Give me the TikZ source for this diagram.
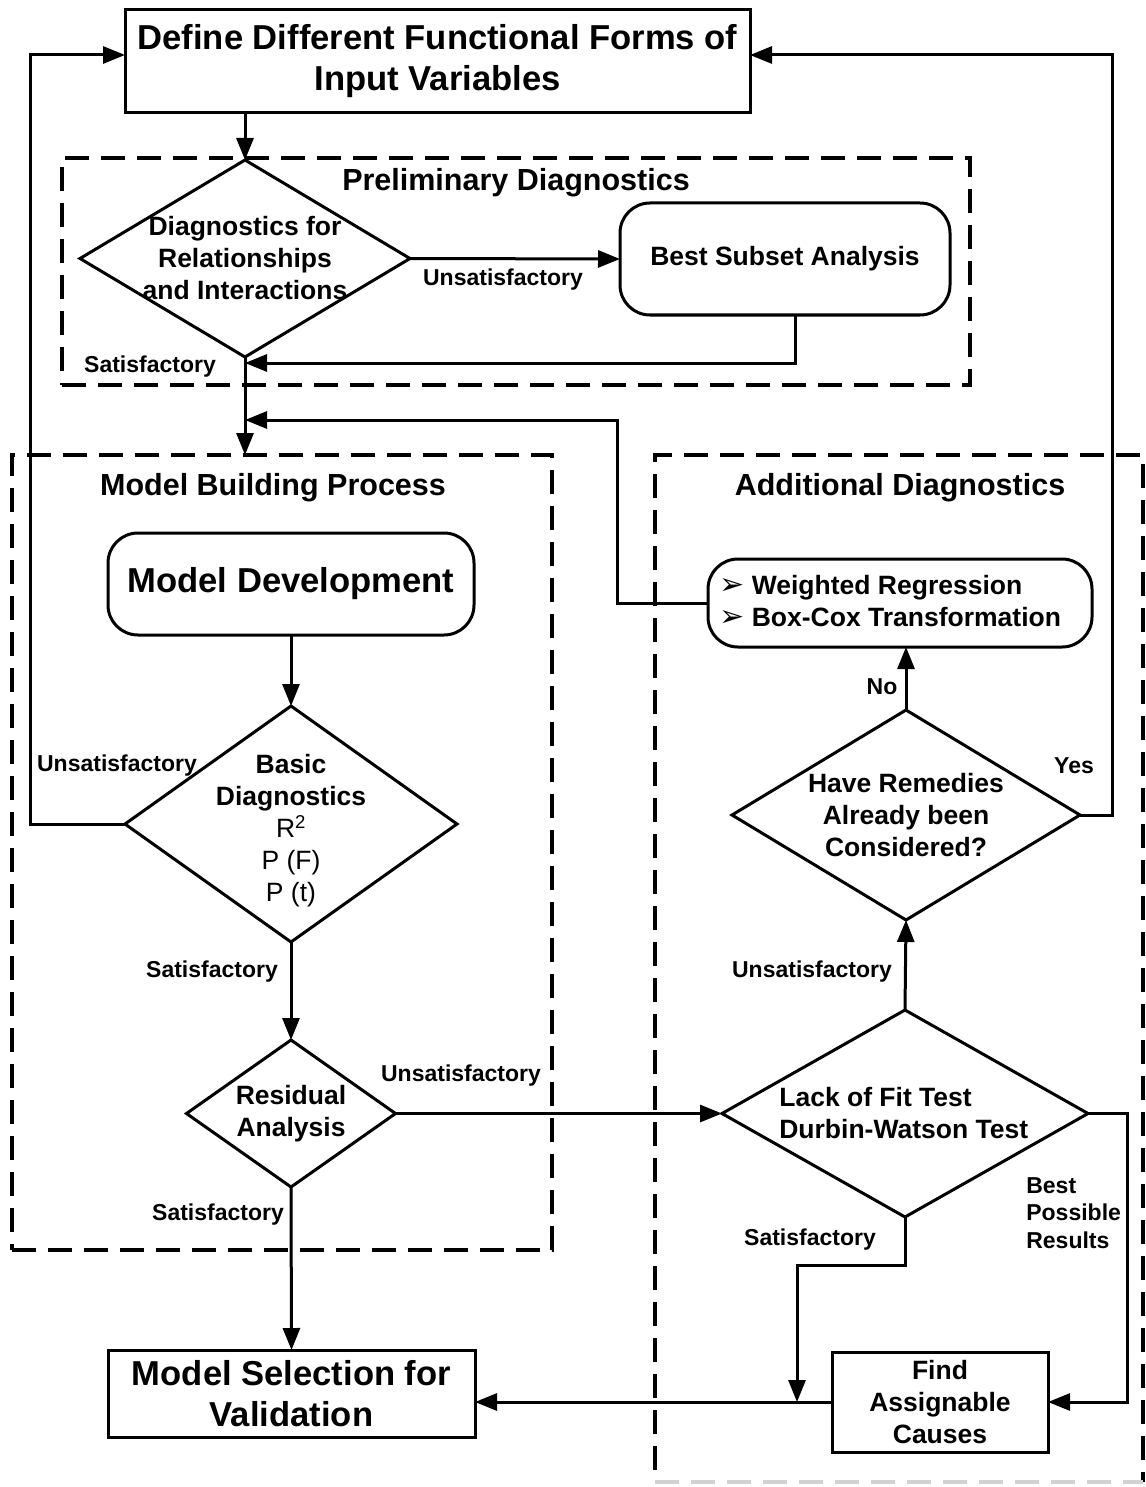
\documentclass[tikz,border=0pt]{standalone}
\usepackage{fontspec}
\setmainfont{Liberation Sans}
\newfontfamily\symfont{DejaVu Sans}
\usetikzlibrary{shapes.geometric,arrows.meta}

\begin{document}
\begin{tikzpicture}[x=1pt,y=-1pt,
  every node/.style={outer sep=0pt},
  box/.style={draw,line width=3pt,inner sep=0pt},
  rbox/.style={box,rounded corners=30pt},
  dia/.style={draw,diamond,line width=3pt,inner sep=0pt},
  grpline/.style={line width=3.5pt,dash pattern=on 24pt off 12pt},
  grp/.style={draw,grpline,inner sep=0pt},
  txt/.style={align=center,font=\fontsize{26.5}{32}\selectfont\bfseries},
  big/.style={align=center,font=\fontsize{34.6}{41}\selectfont\bfseries},
  ttl/.style={font=\fontsize{30.5}{35}\selectfont\bfseries},
  lbl/.style={align=left,font=\fontsize{23}{27.5}\selectfont\bfseries},
  con/.style={line width=3pt},
  arr/.style={con,-{Triangle[length=22pt,width=17pt]}},
]
\path[use as bounding box] (0,0) rectangle (1145,1487);

% dashed group frames
\node[grp,minimum width=908pt,minimum height=227pt] (prelim) at (516,271.5) {};
\node[grp,minimum width=540pt,minimum height=795pt] (mbp) at (282,852.5) {};
\draw[grpline] (655,1470) -- (655,455) -- (1143,455) -- (1143,1482);
\draw[grpline,gray!35] (655,1482) -- (1143,1482);

\node[ttl] (prelimT) at (516,183) {Preliminary Diagnostics};
\node[ttl] (mbpT) at (273,488) {Model Building Process};
\node[ttl] (addT) at (900,488) {Additional Diagnostics};

% top box
\node[box,big,minimum width=625pt,minimum height=103pt] (top) at (437.5,61.5)
  {Define Different Functional Forms of\\Input Variables};

% preliminary diagnostics
\node[dia,minimum width=330pt,minimum height=197pt] (d1) at (245,258.5) {};
\node[txt] (d1t) at (d1) {Diagnostics for\\Relationships\\and Interactions};
\node[rbox,txt,minimum width=330pt,minimum height=112pt] (bsa) at (785,259) {Best Subset Analysis};

% model building
\node[rbox,big,minimum width=366pt,minimum height=102pt] (md) at (291,584) {Model Development};
\node[dia,minimum width=332pt,minimum height=236pt] (d2) at (291,824) {};
\node[txt] (d2t) at (291,831)
  {Basic\\Diagnostics\\\mdseries R\textsuperscript{2}\\\mdseries P (F)\\\mdseries P (t)};
\node[dia,minimum width=209pt,minimum height=147pt] (d3) at (291,1113.5) {};
\node[txt] (d3t) at (d3) {Residual\\Analysis};
\node[box,big,minimum width=367pt,minimum height=87pt] (ms) at (291.5,1393.5)
  {Model Selection for\\Validation};

% additional diagnostics
\node[rbox,minimum width=384pt,minimum height=88pt] (wr) at (900,603) {};
\node[txt,align=left,anchor=west] (wrt) at (716,601)
  {{\symfont\mdseries\fontsize{30}{32}\selectfont ➢}\ Weighted Regression\\
   {\symfont\mdseries\fontsize{30}{32}\selectfont ➢}\ Box-Cox Transformation};
\node[dia,minimum width=348pt,minimum height=210pt] (d5) at (906,815) {};
\node[txt] (d5t) at (d5) {Have Remedies\\Already been\\Considered?};
\node[dia,minimum width=366pt,minimum height=207pt] (d4) at (905,1113.5) {};
\node[txt,align=left,anchor=west] (d4t) at (776,1113) {Lack of Fit Test\\Durbin-Watson Test};
\node[box,txt,minimum width=216pt,minimum height=100pt] (fac) at (940,1402)
  {Find\\Assignable\\Causes};

% junction points of the routed connectors
\coordinate (lx) at (30,55);
\coordinate (rx) at (1112,55);
\coordinate (fbk) at (617,420);
\coordinate (sx) at (797,1265);
\coordinate (bx) at (1127,1112);

% connectors
\draw[arr] (top.south -| d1.north) -- (d1.north);
\draw[arr] (d1.east) -- (bsa.west);
\draw[arr] ([xshift=10pt]bsa.south) |- ([yshift=-6pt]d1.south);
\draw[arr] (d1.south) -- (d1.south |- mbp.north);
\draw[arr] (wr.west) -| (fbk) -- (fbk -| d1.south);
\draw[arr] (md.south) -- (d2.north);
\draw[arr] (d2.west) -| (lx) -- (top.west |- lx);
\draw[arr] (d2.south) -- (d3.north);
\draw[arr] (d3.east) -- (d4.west);
\draw[arr] (d3.south) -- (ms.north);
\draw[arr] (d4.north) -- (d5.south);
\draw[arr] (d5.north) -- (d5.north |- wr.south);
\draw[arr] (d5.east) -| (rx) -- (top.east |- rx);
\draw[arr] (d4.south) |- (sx) -- (sx |- fac.west);
\draw[arr] (fac.west) -- (fac.west -| ms.east);
\draw[arr] (d4.east) -- (d4.east -| bx) |- (fac.east);

% connector labels
\node[lbl] (l1) at (503,280) {Unsatisfactory};
\node[lbl] (l2) at (150,367) {Satisfactory};
\node[lbl] (l3) at (117,766) {Unsatisfactory};
\node[lbl] (l4) at (212,972) {Satisfactory};
\node[lbl] (l5) at (461,1076) {Unsatisfactory};
\node[lbl] (l6) at (218,1215) {Satisfactory};
\node[lbl] (l7) at (882,687) {No};
\node[lbl] (l8) at (1074,766) {Yes};
\node[lbl] (l9) at (812,972) {Unsatisfactory};
\node[lbl] (l10) at (810,1240) {Satisfactory};
\node[lbl,anchor=west] (l11) at (1023,1213) {Best\\Possible\\Results};
\end{tikzpicture}
\end{document}
